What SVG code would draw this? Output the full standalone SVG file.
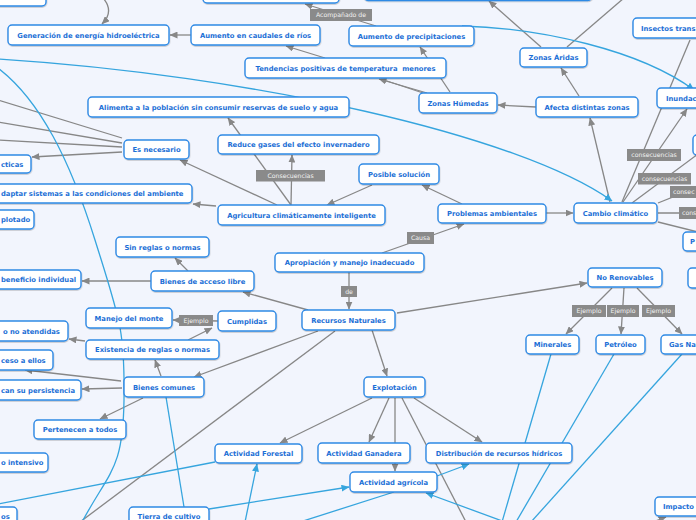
<svg xmlns="http://www.w3.org/2000/svg" width="696" height="520" viewBox="0 0 696 520">
<defs>
<style>
.n rect{fill:#fff;stroke:#2f8ae5;stroke-width:1.4;filter:url(#sh)}
.n text{font-family:"DejaVu Sans",Verdana,sans-serif;font-weight:bold;font-size:6.8px;fill:#1c6fd6;text-anchor:middle}
.n text.s{text-anchor:start}
.c{stroke:#878787;stroke-width:1.3;fill:none}
.c.a{marker-end:url(#ag)}
.b{stroke:#36a5de;stroke-width:1.3;fill:none}
.b.a{marker-end:url(#ab)}
.l rect{fill:#8a8a8a}
.l text{font-family:"DejaVu Sans",Verdana,sans-serif;font-size:6.2px;fill:#f2f2f2;text-anchor:middle}
.l text.s{text-anchor:start}
</style>
<filter id="sh" x="-10%" y="-20%" width="120%" height="150%"><feDropShadow dx="0.4" dy="0.9" stdDeviation="0.6" flood-color="#000" flood-opacity="0.22"/></filter>
<marker id="ag" viewBox="0 0 8 7" refX="7.5" refY="3.5" markerWidth="8" markerHeight="7" markerUnits="userSpaceOnUse" orient="auto"><path d="M0,0 L8,3.5 L0,7 z" fill="#878787"/></marker>
<marker id="ab" viewBox="0 0 8 7" refX="7.5" refY="3.5" markerWidth="8" markerHeight="7" markerUnits="userSpaceOnUse" orient="auto"><path d="M0,0 L8,3.5 L0,7 z" fill="#36a5de"/></marker>
</defs>
<rect x="0" y="0" width="696" height="520" fill="#f2f5fd"/>
<g id="connectors">
<path class="c a" d="M103,-2 C110,6 111,15 102,24"/>
<path class="c a" d="M191,35 L170,35"/>
<path class="c a" d="M376,26 L305,4"/>
<path class="c a" d="M325,58 L286,46"/>
<path class="c a" d="M450,92 L420,47"/>
<path class="c a" d="M427,93 L379,79"/>
<path class="c" d="M423,93 L381,79"/>
<path class="c a" d="M536,107 L498,105"/>
<path class="c a" d="M579,96 L561,68"/>
<path class="c a" d="M541,47 L489,1"/>
<path class="c" d="M567,47 L624,-2"/>
<path class="c a" d="M610,202 L590,118"/>
<path class="c" d="M122,138 L-2,100"/>
<path class="c" d="M122,143 L-2,122"/>
<path class="c" d="M122,147 L-2,140"/>
<path class="c a" d="M122,152 L32,157"/>
<path class="c a" d="M277,205 L180,160"/>
<path class="c a" d="M291,205 L228,118"/>
<path class="c a" d="M291,205 L292,155"/>
<path class="c a" d="M372,185 L327,205"/>
<path class="c a" d="M462,204 L422,185"/>
<path class="c a" d="M216,206 L193,204"/>
<path class="c a" d="M546,213 L573,213"/>
<path class="c" d="M622,202 L690,40"/>
<path class="c a" d="M623,202 L687,109"/>
<path class="c" d="M632,203 L698,154"/>
<path class="c" d="M658,203 L698,187"/>
<path class="c" d="M658,213 L698,213"/>
<path class="c" d="M658,222 L698,232"/>
<path class="c a" d="M382,253 L464,224"/>
<path class="c a" d="M349,272 L349,309"/>
<path class="c a" d="M308,310 L243,292"/>
<path class="c a" d="M188,271 L175,258"/>
<path class="c a" d="M151,281 L82,281"/>
<path class="c a" d="M218,321 L173,320"/>
<path class="c a" d="M188,340 L212,328"/>
<path class="c a" d="M85,341 L69,339"/>
<path class="c a" d="M397,313 L587,283"/>
<path class="c a" d="M612,288 L566,334"/>
<path class="c a" d="M624,288 L621,334"/>
<path class="c a" d="M637,288 L682,334"/>
<path class="c a" d="M318,331 L194,377"/>
<path class="c" d="M335,331 L80,522"/>
<path class="c a" d="M372,330 L387,376"/>
<path class="c a" d="M121,381 L25,370"/>
<path class="c a" d="M122,388 L82,389"/>
<path class="c a" d="M143,398 L100,419"/>
<path class="c a" d="M161,376 L155,360"/>
<path class="c a" d="M372,398 L280,443"/>
<path class="c a" d="M389,398 L369,442"/>
<path class="c a" d="M395,398 L395,471"/>
<path class="c a" d="M414,398 L482,442"/>
<path class="c" d="M402,398 L466,522"/>
<path class="c a" d="M653,522 L666,517"/>
<path class="b a" d="M-2,59 C250,75 520,135 612,201"/>
<path class="b a" d="M462,26 C540,28 640,50 694,90"/>
<path class="b" d="M-2,68 C40,100 70,160 95,240 S125,330 124,400 S110,470 82,522"/>
<path class="b" d="M-2,504 L215,462"/>
<path class="b" d="M166,397 L184,507"/>
<path class="b a" d="M209,509 L349,487"/>
<path class="b a" d="M245,522 L257,464"/>
<path class="b" d="M394,492 L300,522"/>
<path class="b a" d="M437,476 L469,464"/>
<path class="b a" d="M505,522 L426,493"/>
<path class="b" d="M551,354 L502,522"/>
<path class="b" d="M614,354 L516,522"/>
<path class="b" d="M682,354 L531,522"/>
</g>
<g id="labels">
<g class="l"><rect x="310" y="9" width="62" height="12"/><text x="341" y="17.2">Acompañado de</text></g>
<g class="l"><rect x="256" y="170" width="69" height="11.5"/><text x="290.5" y="178">Consecuencias</text></g>
<g class="l"><rect x="407" y="232" width="27" height="12"/><text x="420.5" y="240.3">Causa</text></g>
<g class="l"><rect x="341" y="286" width="16" height="11"/><text x="349" y="293.8">de</text></g>
<g class="l"><rect x="179" y="315" width="34" height="11"/><text x="196" y="322.8">Ejemplo</text></g>
<g class="l"><rect x="627" y="149" width="54" height="12"/><text x="654" y="157.3">consecuencias</text></g>
<g class="l"><rect x="638" y="173" width="53" height="11.5"/><text x="664.5" y="181">consecuencias</text></g>
<g class="l"><rect x="670" y="186" width="40" height="12"/><text class="s" x="673" y="194.3">consec</text></g>
<g class="l"><rect x="679" y="207" width="30" height="12"/><text class="s" x="682" y="215.3">cons</text></g>
<g class="l"><rect x="572" y="305" width="34" height="12"/><text x="589" y="313.3">Ejemplo</text></g>
<g class="l"><rect x="607" y="305" width="32" height="12"/><text x="623" y="313.3">Ejemplo</text></g>
<g class="l"><rect x="642" y="305" width="33" height="12"/><text x="658.5" y="313.3">Ejemplo</text></g>
</g>
<g id="n-topleft" class="n"><rect x="-10" y="-20" width="56" height="26" rx="4"/></g>
<g id="n-topcenter" class="n"><rect x="203" y="-17" width="136" height="20" rx="4"/></g>
<g id="n-topright" class="n"><rect x="364" y="-19" width="228" height="19.5" rx="4"/></g>
<g id="n-generacion" class="n"><rect x="8" y="25" width="161" height="20" rx="4"/><text x="88.5" y="37.5">Generación de energía hidroeléctrica</text></g>
<g id="n-caudales" class="n"><rect x="191" y="25" width="129" height="20" rx="4"/><text x="255.5" y="37.5">Aumento en caudales de ríos</text></g>
<g id="n-precipitaciones" class="n"><rect x="349" y="26" width="125" height="20" rx="4"/><text x="411.5" y="38.5">Aumento de precipitaciones</text></g>
<g id="n-tendencias" class="n"><rect x="245" y="58" width="201" height="20" rx="4"/><text x="345.5" y="70.5" xml:space="preserve">Tendencias positivas de temperatura  menores</text></g>
<g id="n-aridas" class="n"><rect x="520" y="48" width="67" height="19" rx="4"/><text x="553.5" y="60">Zonas Áridas</text></g>
<g id="n-humedas" class="n"><rect x="419" y="93" width="78" height="20" rx="4"/><text x="458" y="105.5">Zonas Húmedas</text></g>
<g id="n-afecta" class="n"><rect x="536" y="97" width="102" height="20" rx="4"/><text x="587" y="109.5">Afecta distintas zonas</text></g>
<g id="n-insectos" class="n"><rect x="633" y="18" width="80" height="20" rx="4"/><text class="s" x="641" y="30.5">Insectos trans</text></g>
<g id="n-inundac" class="n"><rect x="657" y="88" width="60" height="20" rx="4"/><text class="s" x="666" y="100.5">Inundac</text></g>
<g id="n-right1" class="n"><rect x="693" y="135" width="20" height="20" rx="4"/></g>
<g id="n-alimenta" class="n"><rect x="88" y="97" width="261" height="20" rx="4"/><text x="218.5" y="109.5">Alimenta a la población sin consumir reservas de suelo y agua</text></g>
<g id="n-reduce" class="n"><rect x="218" y="135" width="161" height="19" rx="4"/><text x="298.5" y="147">Reduce gases del efecto invernadero</text></g>
<g id="n-esnecesario" class="n"><rect x="124" y="140" width="65" height="19" rx="4"/><text x="156.5" y="152">Es necesario</text></g>
<g id="n-practicas" class="n"><rect x="-10" y="155" width="41" height="18" rx="4"/><text class="s" x="1" y="166.5">cticas</text></g>
<g id="n-adaptar" class="n"><rect x="-10" y="184" width="202" height="19" rx="4"/><text class="s" x="1" y="196">daptar sistemas a las condiciones del ambiente</text></g>
<g id="n-plotado" class="n"><rect x="-10" y="210" width="44" height="19" rx="4"/><text class="s" x="1" y="222">plotado</text></g>
<g id="n-agricultura" class="n"><rect x="218" y="205" width="167" height="20" rx="4"/><text x="301.5" y="217.5">Agricultura climáticamente inteligente</text></g>
<g id="n-posible" class="n"><rect x="359" y="164" width="80" height="20" rx="4"/><text x="399" y="176.5">Posible solución</text></g>
<g id="n-problemas" class="n"><rect x="438" y="204" width="108" height="19" rx="4"/><text x="492" y="216">Problemas ambientales</text></g>
<g id="n-cambio" class="n"><rect x="574" y="203" width="83" height="20" rx="4"/><text x="615.5" y="215.5">Cambio climático</text></g>
<g id="n-p" class="n"><rect x="683" y="232" width="30" height="19" rx="4"/><text class="s" x="690" y="244">P</text></g>
<g id="n-right2" class="n"><rect x="688" y="268" width="25" height="20" rx="4"/></g>
<g id="n-apropiacion" class="n"><rect x="275" y="253" width="149" height="19" rx="4"/><text x="349.5" y="265">Apropiación y manejo inadecuado</text></g>
<g id="n-recursos" class="n"><rect x="302" y="310" width="93" height="20" rx="4"/><text x="348.5" y="322.5">Recursos Naturales</text></g>
<g id="n-accesolibre" class="n"><rect x="151" y="271" width="103" height="20" rx="4"/><text x="202.5" y="283.5">Bienes de acceso libre</text></g>
<g id="n-sinreglas" class="n"><rect x="116" y="237" width="93" height="20" rx="4"/><text x="162.5" y="249.5">Sin reglas o normas</text></g>
<g id="n-beneficio" class="n"><rect x="-10" y="270" width="91" height="19" rx="4"/><text class="s" x="1" y="282">beneficio individual</text></g>
<g id="n-manejo" class="n"><rect x="86" y="308" width="86" height="20" rx="4"/><text x="129" y="320.5">Manejo del monte</text></g>
<g id="n-cumplidas" class="n"><rect x="218" y="311" width="58" height="20" rx="4"/><text x="247" y="323.5">Cumplidas</text></g>
<g id="n-atendidas" class="n"><rect x="-10" y="321" width="78" height="20" rx="4"/><text class="s" x="3" y="333.5">o no atendidas</text></g>
<g id="n-existencia" class="n"><rect x="86" y="340" width="133" height="19" rx="4"/><text x="152.5" y="352">Existencia de reglas o normas</text></g>
<g id="n-accesoellos" class="n"><rect x="-10" y="350" width="63" height="20" rx="4"/><text class="s" x="1" y="362.5">ceso a ellos</text></g>
<g id="n-persistencia" class="n"><rect x="-10" y="380" width="91" height="20" rx="4"/><text class="s" x="1" y="392.5">can su persistencia</text></g>
<g id="n-comunes" class="n"><rect x="124" y="377" width="80" height="20" rx="4"/><text x="164" y="389.5">Bienes comunes</text></g>
<g id="n-pertenecen" class="n"><rect x="34" y="420" width="92" height="19" rx="4"/><text x="80" y="432">Pertenecen a todos</text></g>
<g id="n-intensivo" class="n"><rect x="-10" y="453" width="58" height="19" rx="4"/><text class="s" x="1" y="465">o intensivo</text></g>
<g id="n-os" class="n"><rect x="-10" y="507" width="27" height="20" rx="4"/><text class="s" x="1" y="519">os</text></g>
<g id="n-tierra" class="n"><rect x="129" y="507" width="80" height="20" rx="4"/><text x="169" y="519.3">Tierra de cultivo</text></g>
<g id="n-norenovables" class="n"><rect x="588" y="268" width="74" height="19" rx="4"/><text x="625" y="280">No Renovables</text></g>
<g id="n-minerales" class="n"><rect x="526" y="335" width="53" height="19" rx="4"/><text x="552.5" y="347">Minerales</text></g>
<g id="n-petroleo" class="n"><rect x="596" y="335" width="49" height="19" rx="4"/><text x="620.5" y="347">Petróleo</text></g>
<g id="n-gas" class="n"><rect x="661" y="335" width="55" height="19" rx="4"/><text class="s" x="669" y="347">Gas Na</text></g>
<g id="n-explotacion" class="n"><rect x="364" y="377" width="61" height="20" rx="4"/><text x="394.5" y="389.5">Explotación</text></g>
<g id="n-forestal" class="n"><rect x="215" y="444" width="87" height="19" rx="4"/><text x="258.5" y="456">Actividad Forestal</text></g>
<g id="n-ganadera" class="n"><rect x="318" y="443" width="92" height="20" rx="4"/><text x="364" y="455.5">Actividad Ganadera</text></g>
<g id="n-distribucion" class="n"><rect x="426" y="443" width="146" height="20" rx="4"/><text x="499" y="455.5">Distribución de recursos hídricos</text></g>
<g id="n-agricola" class="n"><rect x="350" y="472" width="87" height="20" rx="4"/><text x="393.5" y="484.5">Actividad agrícola</text></g>
<g id="n-impacto" class="n"><rect x="655" y="497" width="60" height="19" rx="4"/><text class="s" x="663" y="509">Impacto</text></g>
</svg>
